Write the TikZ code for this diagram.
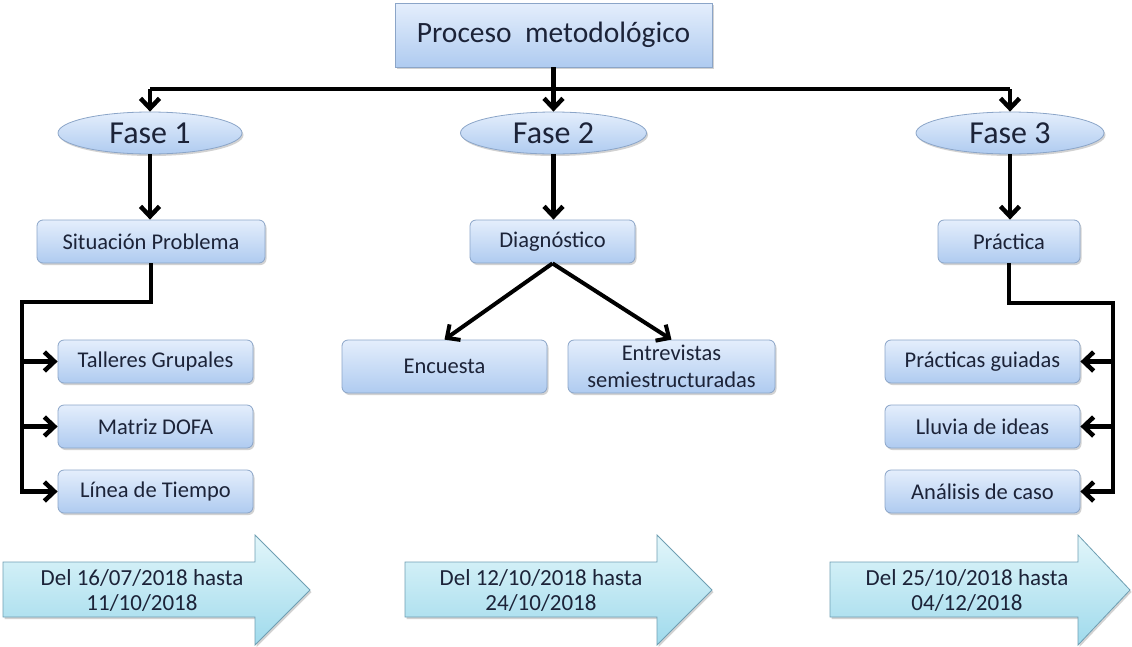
\documentclass[tikz,border=0pt]{standalone}
\usepackage{fontspec}
\setmainfont{Carlito}
\usetikzlibrary{arrows.meta,shapes.geometric,shadows}
\definecolor{txt}{HTML}{1C2338}
\definecolor{bxtop}{HTML}{E4EEFC}
\definecolor{bxbot}{HTML}{AFCBF0}
\definecolor{bxdraw}{HTML}{8BA5C8}
\definecolor{artop}{HTML}{E2F6FA}
\definecolor{arbot}{HTML}{9FDAEC}
\definecolor{ardraw}{HTML}{6F9FB3}
\tikzset{
  shad/.style={drop shadow={shadow xshift=1.5pt,shadow yshift=-2pt,opacity=0.25,fill=black!70}},
  bx/.style={draw=bxdraw,line width=0.8pt,rounded corners=6pt,top color=bxtop,bottom color=bxbot,
     text=txt,inner sep=0pt,minimum height=43pt,align=center,font=\fontsize{22.5}{27}\selectfont,shad},
  fase/.style={ellipse,draw=bxdraw,line width=0.8pt,top color=bxtop,bottom color=bxbot,text=txt,
     inner sep=0pt,minimum height=42pt,font=\fontsize{32}{36}\selectfont,shad},
  conn/.style={line width=4.5pt,black},
  arr/.style={conn,-{Straight Barb[length=10pt,width=19pt]}},
  datearr/.style={draw=ardraw,line width=0.8pt,top color=artop,bottom color=arbot,shad},
  datetxt/.style={text=txt,align=center,font=\fontsize{23}{25}\selectfont,inner sep=0pt},
}
\begin{document}
\begin{tikzpicture}[x=1pt,y=-1pt]
\useasboundingbox (0,0) rectangle (1132,646);
% top box
\node[bx,rounded corners=0pt,minimum width=317pt,minimum height=64pt,font=\fontsize{29.5}{34}\selectfont] (top) at (553.5,35) {Proceso\ \ metodológico};
% phases
\node[fase,minimum width=184pt] (f1) at (150,133) {Fase 1};
\node[fase,minimum width=186pt] (f2) at (553.5,133) {Fase 2};
\node[fase,minimum width=188pt] (f3) at (1010,133) {Fase 3};
% second row
\node[bx,minimum width=228pt] (sp) at (151,241.5) {Situación Problema};
\node[bx,minimum width=165pt] (dg) at (552.5,241.5) {Diagnóstico};
\node[bx,minimum width=142pt] (pr) at (1009,241.5) {Práctica};
% left column
\node[bx,minimum width=195pt] (t1) at (155.5,361.5) {Talleres Grupales};
\node[bx,minimum width=195pt] (t2) at (155.5,426.5) {Matriz DOFA};
\node[bx,minimum width=195pt] (t3) at (155.5,491.5) {Línea de Tiempo};
% middle
\node[bx,minimum width=205pt,minimum height=53pt] (en) at (444.5,366.5) {Encuesta};
\node[bx,minimum width=207pt,minimum height=53pt] (et) at (671.5,366.5) {Entrevistas\\semiestructuradas};
% right column
\node[bx,minimum width=195pt] (r1) at (982.5,361.5) {Prácticas guiadas};
\node[bx,minimum width=195pt] (r2) at (982.5,426.5) {Lluvia de ideas};
\node[bx,minimum width=195pt] (r3) at (982.5,491.5) {Análisis de caso};
% top connectors
\coordinate (hl) at (150,89);
\coordinate (hm) at (553.5,89);
\coordinate (hr) at (1010,89);
\draw[conn] (top.south) -- (hm);
\draw[conn] (hl) -- (hr);
\draw[arr] (hl) -- (f1.north);
\draw[arr] (hm) -- (f2.north);
\draw[arr] (hr) -- (f3.north);
\draw[arr] (f1.south) -- (f1.south |- sp.north);
\draw[arr] (f2.south) -- (f2.south |- dg.north);
\draw[arr] (f3.south) -- (f3.south |- pr.north);
% left branch
\coordinate (lb) at (22,302);
\draw[arr] (sp.south) |- (lb) |- (t3.west);
\draw[arr] (lb |- t1.west) -- (t1.west);
\draw[arr] (lb |- t2.west) -- (t2.west);
% middle
\draw[arr,line width=4pt] (dg.south) -- (en.north);
\draw[arr,line width=4pt] (dg.south) -- (et.north);
% right branch
\coordinate (rb) at (1113,303);
\draw[arr] (pr.south) |- (rb) |- (r3.east);
\draw[arr] (rb |- r1.east) -- (r1.east);
\draw[arr] (rb |- r2.east) -- (r2.east);
% date arrows
\path[datearr] (3,562) -- (255,562) -- (255,535) -- (310,590) -- (255,645) -- (255,617) -- (3,617) -- cycle;
\path[datearr] (405,562) -- (657,562) -- (657,535) -- (712,590) -- (657,645) -- (657,617) -- (405,617) -- cycle;
\path[datearr] (830,562) -- (1078,562) -- (1078,535) -- (1130,590) -- (1078,645) -- (1078,617) -- (830,617) -- cycle;
\node[datetxt] (d1) at (142,590) {Del 16/07/2018 hasta\\11/10/2018};
\node[datetxt] (d2) at (541,590) {Del 12/10/2018 hasta\\24/10/2018};
\node[datetxt] (d3) at (967,590) {Del 25/10/2018 hasta\\04/12/2018};
\end{tikzpicture}
\end{document}
